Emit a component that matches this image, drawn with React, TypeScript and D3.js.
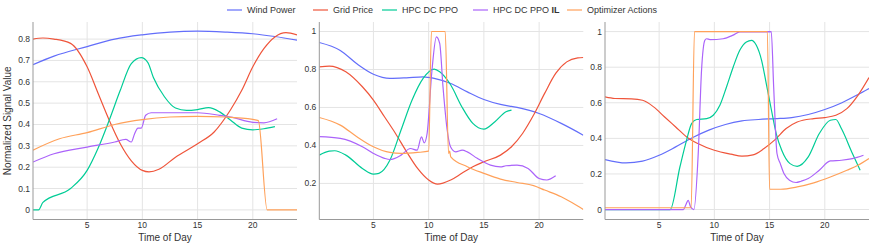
import * as d3 from 'd3';

type Pt = [number, number];

const seriesNames = ['Wind Power', 'Grid Price', 'HPC DC PPO', 'HPC DC PPO IL', 'Optimizer Actions'];
const seriesColors = ['#636efa', '#ef553b', '#00cc96', '#ab63fa', '#ffa15a'];

// panel 1
const p1Wind: Pt[] = [[0.1, 0.68], [2, 0.72], [5, 0.765], [7.5, 0.8], [10, 0.82], [12.5, 0.833], [15, 0.837], [17.5, 0.833], [20, 0.825], [22, 0.812], [24, 0.795]];
const p1Price: Pt[] = [[0.1, 0.8], [1, 0.805], [2, 0.8], [3.5, 0.78], [5, 0.67], [6, 0.545], [7, 0.42], [8, 0.31], [9, 0.23], [10, 0.185], [10.6, 0.178], [11.5, 0.19], [13, 0.247], [15, 0.31], [16.5, 0.365], [18, 0.47], [19, 0.56], [20, 0.67], [21, 0.755], [22, 0.81], [23, 0.83], [24, 0.82]];
const p1Ppo: Pt[] = [[0.1, 0], [0.6, 0], [1, 0.035], [3.5, 0.1], [5, 0.185], [6, 0.29], [7, 0.42], [8, 0.56], [9, 0.685], [9.9, 0.713], [10.5, 0.69], [11, 0.62], [12, 0.53], [13, 0.477], [14, 0.466], [15, 0.47], [16, 0.479], [17, 0.459], [18, 0.42], [19, 0.383], [20, 0.375], [21, 0.38], [22, 0.39]];
const p1Il: Pt[] = [[0.1, 0.224], [2, 0.263], [5, 0.294], [7.5, 0.318], [8.5, 0.33], [9, 0.318], [9.3, 0.357], [9.6, 0.383], [9.9, 0.383], [10.3, 0.443], [10.8, 0.455], [12, 0.455], [15, 0.455], [17, 0.443], [18, 0.435], [20, 0.41], [21, 0.408], [22.2, 0.427]];
const p1Opt: Pt[] = [[0.1, 0.28], [2.5, 0.333], [5, 0.362], [7.5, 0.4], [10, 0.423], [12.5, 0.435], [15, 0.438], [17.5, 0.435], [20, 0.424], [20.5, 0.418], [21.3, 0], [24, 0]];

// panel 2
const p2Wind: Pt[] = [[0.1, 0.942], [2, 0.9], [3.5, 0.83], [5, 0.775], [6.5, 0.753], [8, 0.756], [9.5, 0.761], [10.5, 0.753], [12, 0.726], [13.5, 0.682], [15, 0.642], [16.5, 0.616], [18, 0.6], [20, 0.568], [22, 0.516], [24, 0.454]];
const p2Price: Pt[] = [[0.1, 0.814], [1, 0.818], [2.5, 0.788], [4, 0.709], [5, 0.639], [6, 0.551], [7, 0.463], [8, 0.367], [9, 0.279], [10, 0.218], [10.8, 0.196], [12, 0.218], [13, 0.253], [14, 0.288], [15, 0.314], [16.5, 0.349], [17.5, 0.393], [18.5, 0.463], [19.5, 0.56], [20.5, 0.674], [21.5, 0.779], [22.5, 0.84], [23.5, 0.861], [24, 0.863]];
const p2Ppo: Pt[] = [[0.1, 0.349], [1, 0.37], [1.5, 0.372], [2.5, 0.349], [4, 0.279], [5, 0.249], [5.5, 0.253], [6.5, 0.323], [7.5, 0.481], [8.5, 0.639], [9.5, 0.753], [10.5, 0.802], [11, 0.788], [12, 0.718], [13, 0.604], [14, 0.516], [15, 0.486], [16, 0.525], [17, 0.577], [17.5, 0.586]];
const p2Il: Pt[] = [[0.1, 0.446], [2, 0.437], [4, 0.393], [5, 0.358], [6, 0.332], [6.5, 0.326], [7.5, 0.349], [8.35, 0.384], [8.95, 0.375], [9.35, 0.445], [9.6, 0.414], [9.86, 0.463], [10.3, 0.796], [10.7, 0.972], [11, 0.937], [11.3, 0.708], [11.68, 0.48], [11.98, 0.393], [12.44, 0.366], [13.04, 0.375], [13.5, 0.366], [14.4, 0.332], [15.6, 0.296], [16.5, 0.287], [17, 0.293], [18, 0.296], [19, 0.279], [20, 0.226], [20.7, 0.218], [21.5, 0.24]];
const p2Opt: Pt[] = [[0.1, 0.547], [2, 0.507], [3.5, 0.446], [5, 0.393], [6.5, 0.363], [7.5, 0.358], [9, 0.363], [10, 0.37], [10.25, 1], [11.5, 1], [11.8, 0.358], [11.9, 0.37], [12, 0.34], [13.5, 0.288], [15, 0.253], [16.5, 0.223], [18, 0.205], [19.5, 0.188], [20.5, 0.165], [22, 0.13], [23, 0.098], [24, 0.063]];

// panel 3
const p3Wind: Pt[] = [[0.1, 0.281], [2, 0.262], [3.5, 0.272], [5, 0.305], [6.5, 0.352], [8, 0.403], [9.5, 0.446], [11, 0.478], [12.5, 0.498], [14, 0.506], [15.5, 0.511], [17, 0.517], [18.5, 0.534], [20, 0.562], [21.5, 0.599], [23, 0.646], [24, 0.68]];
const p3Price: Pt[] = [[0.1, 0.633], [1, 0.624], [2.5, 0.622], [3.5, 0.614], [4.5, 0.577], [5.5, 0.52], [6.5, 0.464], [7.5, 0.408], [8.5, 0.371], [10, 0.333], [11.5, 0.311], [12.5, 0.3], [13.5, 0.307], [14.5, 0.343], [15.5, 0.393], [16.5, 0.455], [17.5, 0.492], [19, 0.511], [20, 0.517], [21, 0.53], [22, 0.567], [23, 0.642], [24, 0.742]];
const p3Ppo: Pt[] = [[0.1, 0], [6, 0], [6.88, 0.239], [7.48, 0.389], [7.94, 0.483], [8.4, 0.506], [9.3, 0.511], [9.9, 0.53], [10.5, 0.586], [11.1, 0.689], [11.7, 0.8], [12.3, 0.895], [12.9, 0.942], [13.36, 0.951], [13.8, 0.923], [14.27, 0.84], [14.7, 0.708], [15.17, 0.558], [15.6, 0.427], [16.1, 0.333], [16.85, 0.258], [17.5, 0.243], [18.5, 0.296], [19.5, 0.427], [20.5, 0.502], [21, 0.506], [21.5, 0.455], [22.5, 0.315], [23.2, 0.221]];
const p3Il: Pt[] = [[0.1, 0], [7.2, 0], [7.4, 0.024], [7.63, 0.052], [7.85, 0.015], [8.15, 0], [8.54, 0.315], [8.84, 0.783], [9.14, 0.951], [9.3, 0.96], [9.6, 0.955], [10.8, 0.96], [11.7, 0.98], [12.3, 0.998], [15.15, 1], [15.37, 0.689], [15.67, 0.315], [15.97, 0.258], [16.3, 0.202], [16.8, 0.165], [17.4, 0.152], [17.85, 0.159], [18.5, 0.174], [19.5, 0.221], [20.5, 0.273], [21.5, 0.277], [22.5, 0.286], [23.5, 0.305]];
const p3Opt: Pt[] = [[0.1, 0.01], [7.9, 0.01], [8.2, 1], [14.8, 1], [15, 0.115], [16, 0.114], [17.5, 0.127], [19, 0.15], [20.5, 0.183], [22, 0.221], [23, 0.249], [24, 0.287]];

const panels = [
  { series: [p1Wind, p1Price, p1Ppo, p1Il, p1Opt], yDomain: [-0.045, 0.88], yTicks: [0, 0.1, 0.2, 0.3, 0.4, 0.5, 0.6, 0.7, 0.8] },
  { series: [p2Wind, p2Price, p2Ppo, p2Il, p2Opt], yDomain: [0.01, 1.05], yTicks: [0.2, 0.4, 0.6, 0.8, 1] },
  { series: [p3Wind, p3Price, p3Ppo, p3Il, p3Opt], yDomain: [-0.056, 1.054], yTicks: [0, 0.2, 0.4, 0.6, 0.8, 1] },
];
const xTicks = [5, 10, 15, 20];
const xDomain = [0.1, 24];

const WIDTH = 875;
const HEIGHT = 250;
const PANEL_LEFT = [33, 319.3, 605];
const PANEL_W = 264;
const TOP = 22;
const BOTTOM = 219.5;
const FONT = 'Liberation Sans, Arial, sans-serif';
const LEGEND_X = [227, 313, 382, 473, 567];

function Panel({ idx }: { idx: number }) {
  const p = panels[idx];
  const x0 = PANEL_LEFT[idx];
  const xScale = d3.scaleLinear().domain(xDomain).range([x0, x0 + PANEL_W]);
  const yScale = d3.scaleLinear().domain(p.yDomain).range([BOTTOM, TOP]);
  const lineGen = d3
    .line<Pt>()
    .x(d => xScale(d[0]))
    .y(d => yScale(d[1]))
    .curve(d3.curveMonotoneX);
  const clipId = `clip${idx}`;
  return (
    <g>
      <clipPath id={clipId}>
        <rect x={x0} y={TOP} width={PANEL_W} height={BOTTOM - TOP} />
      </clipPath>
      {xTicks.map(t => (
        <g key={'x' + t}>
          <line x1={xScale(t)} x2={xScale(t)} y1={TOP} y2={BOTTOM} stroke="#e4e4e4" />
          <text x={xScale(t)} y={228} fontSize={8.5} textAnchor="middle" fill="#333">
            {t}
          </text>
        </g>
      ))}
      {p.yTicks.map(t => (
        <g key={'y' + t}>
          <line x1={x0} x2={x0 + PANEL_W} y1={yScale(t)} y2={yScale(t)} stroke="#e4e4e4" />
          <text x={x0 - 3} y={yScale(t)} dy="0.35em" fontSize={8.5} textAnchor="end" fill="#333">
            {d3.format('~g')(t)}
          </text>
        </g>
      ))}
      <g clipPath={`url(#${clipId})`}>
        {p.series.map((s, i) => (
          <path key={i} d={lineGen(s) || ''} fill="none" stroke={seriesColors[i]} strokeWidth={1.2} />
        ))}
      </g>
      <line x1={x0} x2={x0} y1={TOP} y2={BOTTOM} stroke="#999" />
      <line x1={x0} x2={x0 + PANEL_W} y1={BOTTOM} y2={BOTTOM} stroke="#999" />
      <text x={x0 + PANEL_W / 2} y={241} fontSize={10} textAnchor="middle" fill="#333">
        Time of Day
      </text>
    </g>
  );
}

export default function App() {
  return (
    <svg width={WIDTH} height={HEIGHT} style={{ position: 'absolute', left: 0, top: 0, fontFamily: FONT }}>
      <rect width={WIDTH} height={HEIGHT} fill="#fff" />
      {panels.map((_, i) => (
        <Panel key={i} idx={i} />
      ))}
      <text transform={`translate(11, ${(TOP + BOTTOM) / 2}) rotate(-90)`} fontSize={10} textAnchor="middle" fill="#333">
        Normalized Signal Value
      </text>
      {seriesNames.map((name, i) => (
        <g key={name} transform={`translate(${LEGEND_X[i]}, 10)`}>
          <line x1={0} x2={15} stroke={seriesColors[i]} strokeWidth={1.2} />
          <text x={20} dy="0.35em" fontSize={9} fill="#333">
            {name === 'HPC DC PPO IL' ? (
              <>
                HPC DC PPO <tspan fontWeight="bold">IL</tspan>
              </>
            ) : (
              name
            )}
          </text>
        </g>
      ))}
    </svg>
  );
}
